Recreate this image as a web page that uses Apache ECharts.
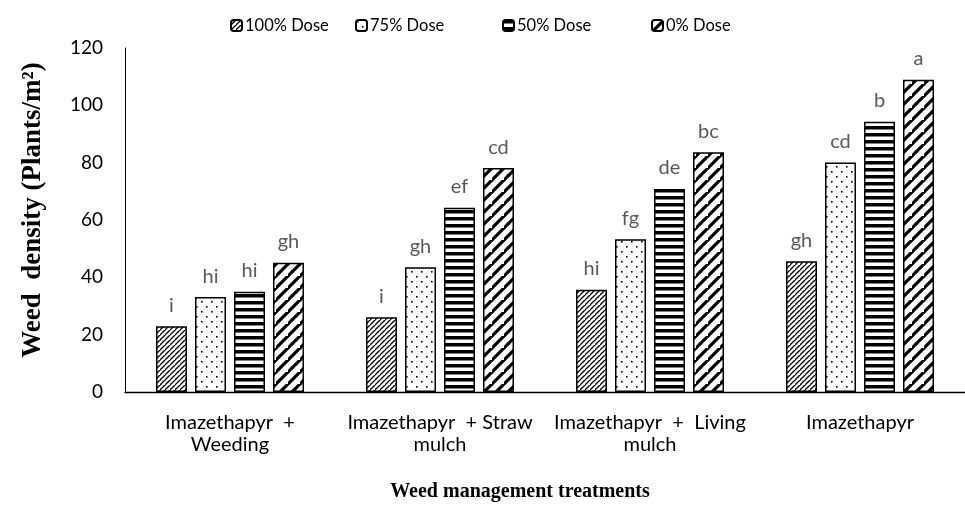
<!DOCTYPE html>
<html>
<head>
<meta charset="utf-8">
<script src="https://cdn.jsdelivr.net/npm/echarts@6/dist/echarts.min.js"></script>
<style>
html,body{margin:0;padding:0;background:#fff;}
#chart{width:965px;height:507px;}
</style>
</head>
<body>
<div id="chart"></div>
<script>
const categories = ["Imazethapyr  +\nWeeding", "Imazethapyr  + Straw\nmulch", "Imazethapyr  +  Living\nmulch", "Imazethapyr"];
const seriesNames = ["100% Dose", "75% Dose", "50% Dose", "0% Dose"];
const dose100 = [22.9, 26.1, 35.7, 45.6];
const dose75 = [33.1, 43.5, 53.3, 80.1];
const dose50 = [35.0, 64.3, 70.8, 94.3];
const dose0 = [45.1, 78.1, 83.6, 108.9];
const letters100 = ["i", "i", "hi", "gh"];
const letters75 = ["hi", "gh", "fg", "cd"];
const letters50 = ["hi", "ef", "de", "b"];
const letters0 = ["gh", "cd", "bc", "a"];
const yTicks = {min: 0, max: 120, interval: 20};

function makeCanvas(w, h, draw) {
  const c = document.createElement('canvas');
  c.width = w; c.height = h;
  const ctx = c.getContext('2d');
  ctx.fillStyle = '#fff';
  ctx.fillRect(0, 0, w, h);
  ctx.fillStyle = '#000';
  ctx.strokeStyle = '#000';
  draw(ctx, w, h);
  return c;
}
function diag(s, lw) {
  return makeCanvas(s, s, (ctx) => {
    ctx.lineWidth = lw;
    ctx.beginPath();
    ctx.moveTo(-1, s + 1); ctx.lineTo(s + 1, -1);
    ctx.moveTo(-s - 1, s + 1); ctx.lineTo(1, -1);
    ctx.moveTo(s - 1, 2 * s + 1); ctx.lineTo(2 * s + 1, s - 1);
    ctx.stroke();
  });
}
const patFine = diag(5, 1.3);
const patWide = diag(12, 3.2);
const patDots = makeCanvas(10, 10, (ctx) => {
  ctx.fillRect(1, 1, 1.6, 1.6);
  ctx.fillRect(6, 6, 1.6, 1.6);
});
const patHoriz = makeCanvas(4, 7, (ctx) => {
  ctx.fillRect(0, 0, 4, 3.5);
});

const patterns = [patFine, patDots, patHoriz, patWide];
const values = [dose100, dose75, dose50, dose0];
const letters = [letters100, letters75, letters50, letters0];

const chart = echarts.init(document.getElementById('chart'), null, {renderer: 'canvas'});
const font = 'Lato, "Open Sans", sans-serif';

const series = seriesNames.map((name, i) => ({
  name: name,
  type: 'bar',
  barWidth: 31,
  barGap: '25.8%',
  data: values[i],
  itemStyle: {
    color: {image: patterns[i], repeat: 'repeat'},
    borderColor: '#000',
    borderWidth: 1.5
  },
  label: {
    show: true,
    position: 'top',
    distance: 11,
    fontFamily: font,
    fontSize: 20,
    color: '#595959',
    formatter: (p) => letters[i][p.dataIndex]
  },
  emphasis: {disabled: true}
}));

const legendLefts = [230, 355, 502, 651];
const legends = seriesNames.map((n, i) => ({
  data: [n],
  top: 17,
  left: legendLefts[i],
  padding: 0,
  itemWidth: 11,
  itemHeight: 11,
  itemGap: 0,
  textStyle: {fontFamily: font, fontSize: 16.5, color: '#000', padding: [0, 0, 0, -2]}
}));

chart.setOption({
  animation: false,
  backgroundColor: '#fff',
  legend: legends,
  grid: {left: 125, right: -12, top: 48, bottom: 113.5, containLabel: false},
  xAxis: {
    type: 'category',
    data: categories,
    axisLine: {lineStyle: {color: '#000', width: 1.3}},
    axisTick: {show: false},
    axisLabel: {fontFamily: font, fontSize: 20, color: '#000', margin: 20, lineHeight: 22, interval: 0},
    name: 'Weed management treatments',
    nameLocation: 'middle',
    nameGap: 90,
    nameTextStyle: {fontFamily: '"Liberation Serif", serif', fontWeight: 'bold', fontSize: 20, color: '#000', padding: [0, 50, 0, 0]}
  },
  yAxis: {
    type: 'value',
    min: yTicks.min,
    max: yTicks.max,
    interval: yTicks.interval,
    splitLine: {show: false},
    axisLine: {show: true, lineStyle: {color: '#000', width: 1}},
    axisTick: {show: false},
    axisLabel: {fontFamily: font, fontSize: 19, color: '#000', margin: 22},
    name: 'Weed  density (Plants/m²)',
    nameLocation: 'middle',
    nameGap: 78,
    nameTextStyle: {fontFamily: '"Liberation Serif", serif', fontWeight: 'bold', fontSize: 27, color: '#000', padding: [0, 0, 0, 20]}
  },
  series: series
});
</script>
</body>
</html>
